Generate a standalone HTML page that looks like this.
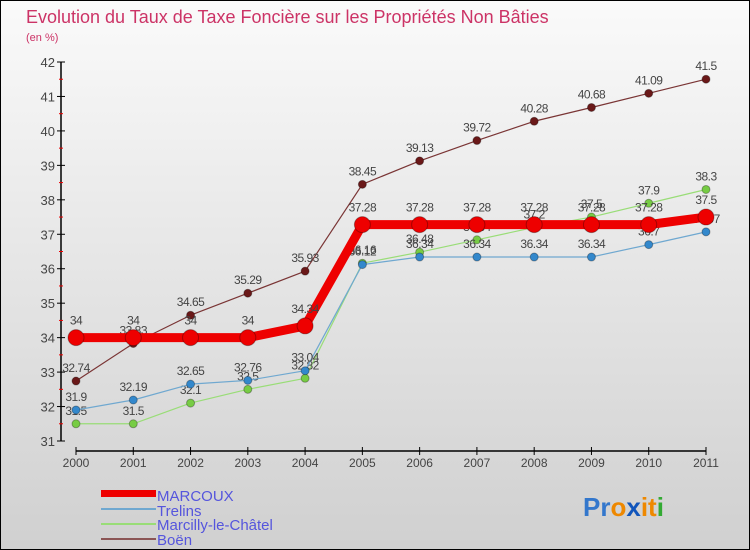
<!DOCTYPE html>
<html><head><meta charset="utf-8"><style>
body{margin:0}
#c{width:750px;height:550px;position:relative;overflow:hidden;background:linear-gradient(#fafafa,#d0d0d0);border:1px solid #000;box-sizing:border-box;font-family:"Liberation Sans",sans-serif}
</style></head><body>
<div id="c">
<svg id="s" width="750" height="550" style="position:absolute;left:0;top:0">
<text x="25" y="22" font-size="18" font-weight="normal" fill="#cc3366">Evolution du Taux de Taxe Foncière sur les Propriétés Non Bâties</text>
<text x="25" y="40" font-size="11" fill="#cc3366">(en %)</text>
<g id="axes"></g><g id="series"></g>
<g>
<rect x="100" y="489" width="55" height="7" fill="#ee0000"/>
<text x="156" y="500" font-size="15" fill="#5555dd">MARCOUX</text>
<rect x="100" y="507" width="55" height="2" fill="#6fa8d0"/>
<text x="156" y="515" font-size="15" fill="#5555dd">Trelins</text>
<rect x="100" y="522" width="55" height="2" fill="#99dd77"/>
<text x="156" y="529" font-size="15" fill="#5555dd">Marcilly-le-Châtel</text>
<rect x="100" y="537" width="55" height="2" fill="#8b5555"/>
<text x="156" y="544" font-size="15" fill="#5555dd">Boën</text>
</g>
<text x="582" y="515" font-size="26" font-weight="bold"><tspan fill="#3377cc">Pr</tspan><tspan fill="#ee8800">o</tspan><tspan fill="#1155bb">x</tspan><tspan fill="#ee8800">it</tspan><tspan fill="#33aa33">i</tspan></text>
</svg>
</div>
<script>
const years=["2000","2001","2002","2003","2004","2005","2006","2007","2008","2009","2010","2011"];
const yTicks=[31,32,33,34,35,36,37,38,39,40,41,42];
const marcoux=[34,34,34,34,34.34,37.28,37.28,37.28,37.28,37.28,37.28,37.5];
const trelins=[31.9,32.19,32.65,32.76,33.04,36.12,36.34,36.34,36.34,36.34,36.7,37.07];
const marcilly=[31.5,31.5,32.1,32.5,32.82,36.16,36.48,36.84,37.2,37.5,37.9,38.3];
const boen=[32.74,33.83,34.65,35.29,35.93,38.45,39.13,39.72,40.28,40.68,41.09,41.5];
const NS="http://www.w3.org/2000/svg";
const X=i=>75+i*(630/11);
const Y=v=>440-(v-31)*(379/11);
function mk(t,a,p){const e=document.createElementNS(NS,t);for(const k in a)e.setAttribute(k,a[k]);p.appendChild(e);return e;}
const ax=document.getElementById('axes');
const yl=mk('line',{x1:60,y1:61,x2:60,y2:440,stroke:'#000','stroke-width':1.5},ax);


yTicks.forEach(v=>{
 mk('line',{x1:56,x2:64,y1:Y(v),y2:Y(v),stroke:'#000'},ax);
 if(v<42)mk('line',{x1:58,x2:62,y1:Y(v+0.5),y2:Y(v+0.5),stroke:'#e00'},ax);
 const t=mk('text',{x:54,y:Y(v)+5,'font-size':13,fill:'#444','text-anchor':'end'},ax);t.textContent=v;
 
 
});
const xl=mk('line',{x1:75,y1:450,x2:705,y2:450,stroke:'#000','stroke-width':1.5},ax);


years.forEach((y,i)=>{
 mk('line',{x1:X(i),x2:X(i),y1:446,y2:454,stroke:'#000'},ax);
 const t=mk('text',{x:X(i),y:466,'font-size':12,fill:'#444','text-anchor':'middle'},ax);t.textContent=y;
 
 
});
const sg=document.getElementById('series');
function series(d,name,color,w,r,dot){
 const g=mk('g',{},sg);
 
 
 const pl=mk('polyline',{points:d.map((v,i)=>X(i)+','+Y(v)).join(' '),fill:'none',stroke:color,'stroke-width':w,'stroke-linejoin':'round'},g);
 
 
 d.forEach((v,i)=>{
  const c=mk('circle',{cx:X(i),cy:Y(v),r:r,fill:dot,stroke:'rgba(0,0,0,0.3)'},g);
  
  
  const t=mk('text',{x:X(i),y:Y(v)-9-(r>5?4:0),'font-size':12,fill:'#444','text-anchor':'middle','letter-spacing':'-0.5'},g);t.textContent=v;
  
  
 });
}
series(boen,'boen','#7a3535',1.2,4,'#6a1818');
series(marcilly,'marcilly','#99dd77',1.2,4,'#77cc44');
series(trelins,'trelins','#6fa8d0',1.2,4,'#3388cc');
series(marcoux,'marcoux','#ee0000',9,8,'#ee0000');
</script>
</body></html>
